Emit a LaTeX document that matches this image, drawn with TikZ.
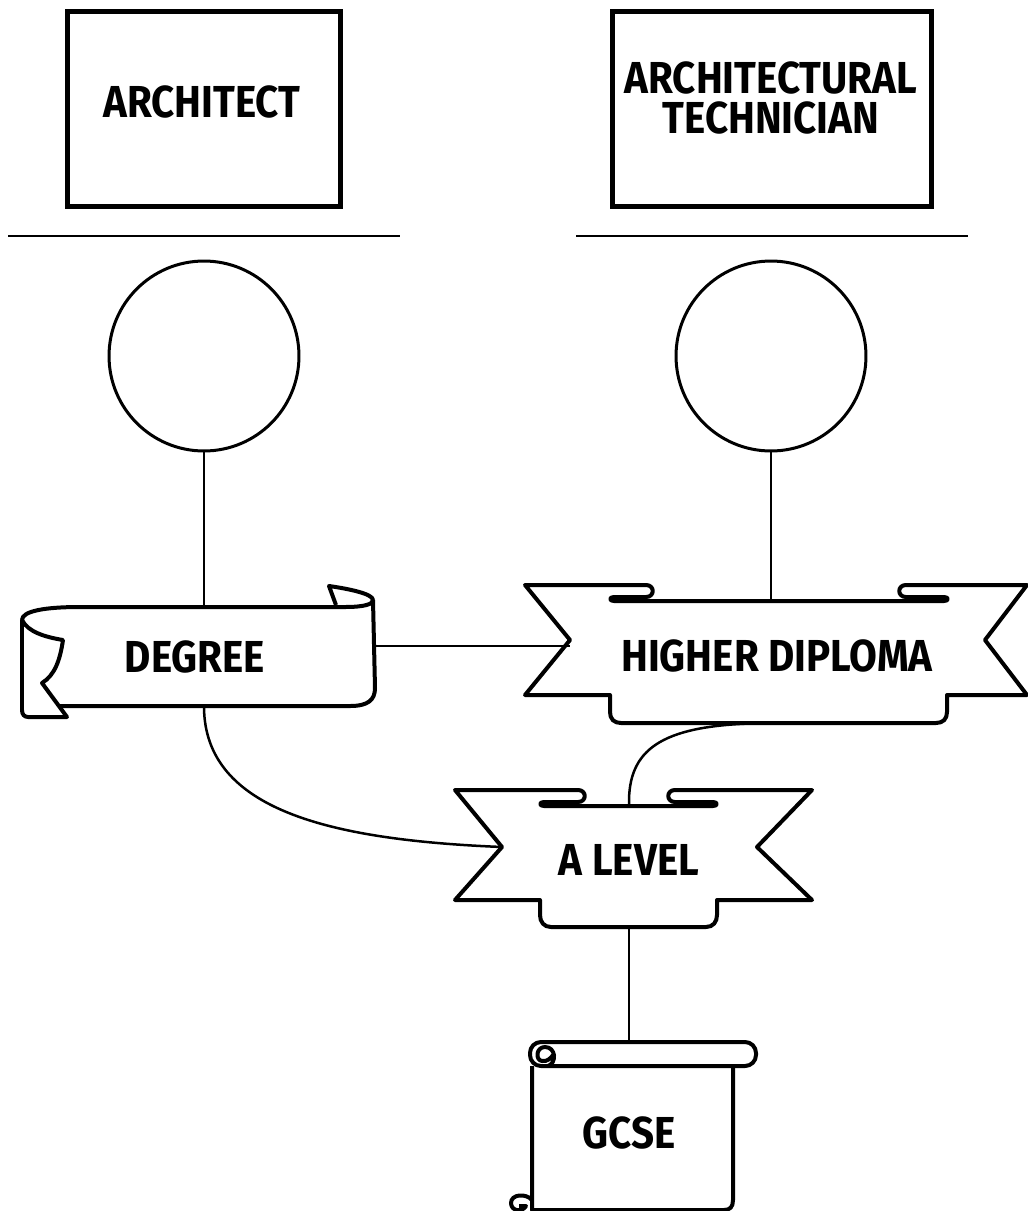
\documentclass[tikz,border=0pt]{standalone}
\usepackage{fontspec}
\setmainfont{Fira Sans}[FakeStretch=0.9]
\usetikzlibrary{shapes}
\tikzstyle{jobbox} = [rectangle, minimum width=5.46cm, minimum height=3.9cm, draw=black, line width=0.1cm]
\tikzstyle{title} = [text centered, align=center, inner sep=0pt, font=\fontsize{25.5}{23}\selectfont\bfseries]
\tikzstyle{ring} = [circle, minimum size=3.8cm, draw=black, line width=0.06cm]
\tikzstyle{ribbon} = [draw=black, line width=0.08cm, line join=round]
\tikzstyle{rule} = [line width=0.04cm]
\tikzstyle{edge} = [line width=0.05cm]
\begin{document}
\begin{tikzpicture}[x=0.02cm, y=-0.02cm]
\useasboundingbox (0,0) rectangle (1028,1211);

\node (arch) [jobbox] at (204,109) {};
\node (archname) [title] at (202,102) {ARCHITECT};
\node (tech) [jobbox, minimum width=6.38cm] at (772,109) {};
\node (techname) [title] at (771,98) {ARCHITECTURAL\\TECHNICIAN};
\draw [rule] (8,236) -- (400,236);
\draw [rule] (576,236) -- (968,236);

\node (archcirc) [ring] at (204,356) {};
\node (techcirc) [ring] at (771,356) {};

\node (degree) [title, minimum width=7.2cm, minimum height=2cm] at (195,657) {DEGREE};
\node (diploma) [title, minimum height=2.24cm] at (777,656) {HIGHER DIPLOMA};
\node (alevel) [title, minimum height=2.2cm] at (629,860) {A LEVEL};
\node (gcse) [title, minimum height=3.64cm] at (629,1133) {GCSE};
\coordinate (hdnotch) at (570,646);
\coordinate (alnotch) at (502,847);

% degree scroll
\draw [ribbon] (22,620) .. controls (22,611) and (45,607) .. (80,607) -- (345,607) .. controls (365,607) and (373,604) .. (373,600) -- (375,688) .. controls (375,700) and (368,706) .. (350,706) -- (58,706);
\draw [ribbon] (22,620) .. controls (28,632) and (45,637) .. (63,640) .. controls (60,660) and (55,675) .. (42,683) -- (67,717) -- (28,717) .. controls (24,717) and (22,714) .. (22,710) -- cycle;
\draw [ribbon] (336,605) -- (329,586) .. controls (350,589) and (373,594) .. (373,600);

% higher diploma banner
\draw [ribbon] (525,585) -- (646,585) .. controls (655,585) and (655,597) .. (646,597) -- (614,597) .. controls (609,597) and (609,601) .. (614,601) -- (944,601) .. controls (949,601) and (949,597) .. (944,597) -- (906,597) .. controls (897,597) and (897,585) .. (906,585) -- (1027,585) -- (985,640) -- (1027,695) -- (947,695) -- (947,712) .. controls (947,719) and (943,723) .. (936,723) -- (621,723) .. controls (614,723) and (610,719) .. (610,712) -- (610,695) -- (525,695) -- (570,640) -- cycle;

% a level banner
\draw [ribbon] (455,790) -- (578,790) .. controls (587,790) and (587,802) .. (578,802) -- (544,802) .. controls (539,802) and (539,806) .. (544,806) -- (713,806) .. controls (718,806) and (718,802) .. (713,802) -- (675,802) .. controls (666,802) and (666,790) .. (675,790) -- (812,790) -- (757,847) -- (812,900) -- (717,900) -- (717,915) .. controls (717,922) and (713,927) .. (706,927) -- (551,927) .. controls (544,927) and (540,922) .. (540,915) -- (540,900) -- (455,900) -- (502,847) -- cycle;

% gcse scroll
\draw [ribbon, rounded corners=0.22cm] (530,1042) rectangle (756,1066);
\draw [ribbon] (548,1066) .. controls (557,1063) and (556,1047) .. (545,1047) .. controls (536,1047) and (535,1060) .. (542,1061) .. controls (547,1062) and (551,1058) .. (553,1055);
\draw [ribbon] (532,1066) -- (532,1210) -- (724,1210) .. controls (730,1210) and (733,1207) .. (733,1200) -- (733,1066);
\draw [ribbon] (532,1200) .. controls (526,1193) and (511,1194) .. (511,1203) .. controls (511,1211) and (522,1213) .. (526,1206) -- (519,1206);

\draw [edge] (archcirc) -- (archcirc |- degree.north);
\draw [edge] (techcirc) -- (techcirc |- diploma.north);
\draw [edge] (hdnotch -| degree.east) -- (hdnotch);
\draw [edge] (archcirc |- degree.south) .. controls (205,810) and (330,840) .. (alnotch);
\draw [edge] ([xshift=-0.44cm, yshift=-0.22cm]diploma.south) .. controls (660,726) and (628,750) .. (alevel.north);
\draw [edge] ([yshift=-0.24cm]alevel.south) -- (gcse.north);

\end{tikzpicture}
\end{document}
